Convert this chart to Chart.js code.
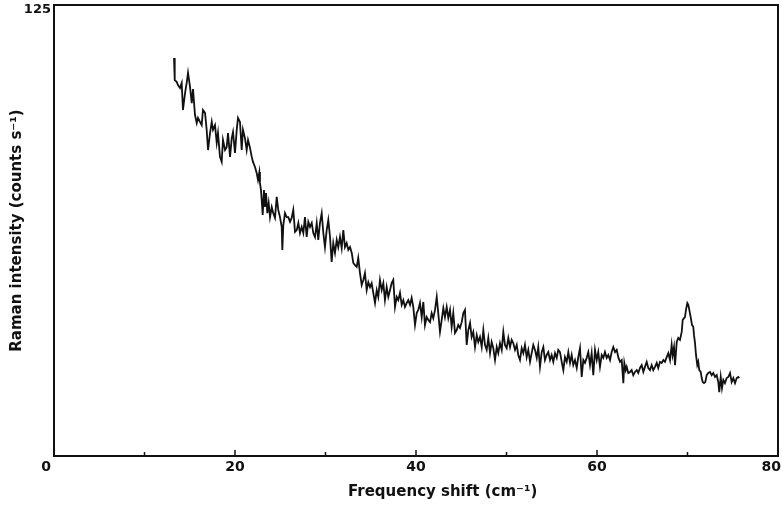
<!DOCTYPE html>
<html>
<head>
<meta charset="utf-8">
<script src="https://cdn.jsdelivr.net/npm/chart.js@4.4.1/dist/chart.umd.min.js"></script>
<style>
  html, body { margin: 0; padding: 0; background: #fff; }
  #wrap { width: 782px; height: 506px; }
</style>
</head>
<body>
<div id="wrap"><canvas id="ramanChart" width="782" height="506"></canvas></div>
<script>
// trace, [shift cm-1, counts s-1]
const traceLow = [
  [13.26,110.3],[13.34,104.2],[13.56,103.7],[13.70,102.8],[13.92,102.0],[14.11,103.4],[14.25,95.9],[14.48,100.6],
  [14.66,103.4],[14.81,106.2],[15.03,102.3],[15.22,97.8],[15.36,101.7],[15.58,94.5],[15.77,92.3],[15.91,93.7],
  [16.13,92.6],[16.32,91.7],[16.46,95.9],[16.69,95.1],[16.87,90.4],[17.02,84.8],[17.24,89.5],[17.43,92.6],
  [17.57,90.4],[17.79,91.7],[17.98,86.8],[18.12,89.5],[18.34,82.9],[18.53,81.5],[18.67,87.6],[18.90,84.8],
  [19.08,85.6],[19.23,89.5],[19.45,82.9],[19.64,88.1],[19.78,89.8],[20.00,84.0],[20.19,90.4],[20.33,93.7],
  [20.55,92.6],[20.74,84.8],[20.88,90.4],[21.10,88.1],[21.29,84.8],[21.44,87.6],[21.66,85.4],[21.85,82.9],
  [21.99,81.5],[22.21,80.1],[22.40,78.4],[22.54,76.5],[22.69,78.7],[22.76,75.7],[22.87,73.7],[22.95,71.0],
  [23.06,66.8],[23.20,73.7],[23.31,69.0],[23.43,72.9],[23.57,67.3],[23.72,70.1],[23.87,66.2],[24.06,69.0],
  [24.23,67.3],[24.42,66.0],[24.61,71.8],[24.78,68.2],[24.97,66.2],[25.16,63.5],[25.23,57.1],[25.34,64.0],
  [25.52,67.3],[25.71,66.2]
];

const traceMid = [
  [25.89,66.2],[26.08,64.9],[26.26,66.0],[26.44,68.2],[26.63,62.1],[26.82,62.6],[27.00,64.6],[27.18,61.8],
  [27.37,63.5],[27.55,61.8],[27.73,66.2],[27.92,60.7],[28.10,64.9],[28.29,63.5],[28.48,64.6],[28.65,61.8],
  [28.84,60.7],[29.03,64.6],[29.20,59.9],[29.39,64.6],[29.58,67.3],[29.76,61.8],[29.94,57.9],[30.13,62.6],
  [30.31,65.4],[30.50,60.7],[30.68,53.8],[30.86,59.0],[31.05,56.3],[31.24,59.9],[31.41,57.9],[31.60,60.7],
  [31.79,57.6],[31.97,62.6],[32.15,57.9],[32.34,59.0],[32.52,57.1],[32.71,57.9],[32.90,56.3],[33.07,53.5],
  [33.26,52.9],[33.45,52.4],[33.62,54.9],[33.81,50.7],[34.00,47.4],[34.18,48.8],[34.36,50.7],[34.55,46.0],
  [34.73,48.2],[34.92,46.8],[35.10,47.9],[35.28,45.2],[35.47,42.4],[35.66,46.0],[35.83,44.1],[36.02,48.8],
  [36.21,46.0],[36.39,47.9],[36.57,43.2],[36.76,46.8],[36.94,44.1],[37.13,46.0],[37.31,47.9],[37.49,48.8],
  [37.68,41.3],[37.87,44.1],[38.04,43.2],[38.23,45.2],[38.42,41.9],[38.60,43.2],[38.78,41.3],[38.97,42.4],
  [39.15,43.2],[39.34,41.9],[39.52,43.8],[39.70,41.3]
];

const traceTail = [
  [39.89,36.3],[40.08,39.6],[40.25,40.5],[40.44,42.4],[40.63,38.5],[40.81,42.7],[40.99,36.3],[41.18,38.5],
  [41.36,37.7],[41.55,37.1],[41.73,39.6],[41.91,38.2],[42.10,40.5],[42.29,44.1],[42.46,39.6],[42.65,34.4],
  [42.84,37.7],[43.02,41.0],[43.20,38.5],[43.39,41.3],[43.57,38.2],[43.76,40.5],[43.94,35.8],[44.12,39.6],
  [44.31,34.1],[44.50,34.9],[44.67,36.3],[44.86,35.5],[45.05,37.1],[45.23,39.6],[45.41,40.5],[45.60,30.8],
  [45.78,34.9],[45.97,36.9],[46.15,33.0],[46.33,34.4],[46.52,30.2],[46.71,33.5],[46.88,31.6],[47.07,33.0],
  [47.26,30.2],[47.44,34.9],[47.62,30.8],[47.81,29.4],[47.99,32.7],[48.18,28.5],[48.36,31.6],[48.54,29.9],
  [48.73,26.6],[48.92,30.2],[49.09,28.5],[49.28,31.3],[49.47,29.4],[49.65,34.4],[49.83,30.8],[50.02,29.9],
  [50.20,32.7],[50.39,30.2],[50.57,32.2],[50.75,31.3],[50.94,29.4],[51.13,30.8],[51.30,28.0],[51.49,26.6],
  [51.68,29.9],[51.86,28.5],[52.04,30.8],[52.23,27.4],[52.41,29.4],[52.60,26.1],[52.78,28.5],[52.96,30.8],
  [53.15,29.4],[53.34,27.2],[53.51,30.2],[53.70,24.7],[53.89,28.8],[54.07,30.2],[54.25,26.6],[54.44,28.0],
  [54.62,28.8],[54.81,26.6],[54.99,28.0],[55.17,26.1],[55.36,28.5],[55.55,27.2],[55.72,29.4]
];

const traceFlat = [
  [55.91,28.8],[56.10,26.1],[56.28,23.8],[56.46,27.4],[56.65,26.1],[56.83,28.8],[57.02,25.8],[57.20,28.0],
  [57.38,25.2],[57.57,26.6],[57.76,24.4],[57.93,27.4],[58.12,29.9],[58.31,21.9],[58.49,26.6],[58.67,25.8],
  [58.86,27.2],[59.04,28.8],[59.23,25.2],[59.41,28.5],[59.59,22.4],[59.78,29.4],[59.97,26.6],[60.14,28.8],
  [60.33,24.7],[60.52,28.0],[60.70,27.2],[60.88,28.8],[61.07,27.2],[61.25,28.0],[61.44,26.6],[61.62,28.8],
  [61.80,30.2],[61.99,28.8],[62.18,29.4],[62.35,27.4],[62.54,26.1],[62.73,26.6],[62.91,20.2],[63.02,25.8],
  [63.17,23.8],[63.28,24.7],[63.46,23.0],[63.65,23.3],[63.83,23.8],[64.01,22.4],[64.20,23.3],[64.39,23.8],
  [64.56,23.0],[64.75,24.4],[64.94,25.2],[65.12,23.3],[65.30,24.7],[65.49,26.1],[65.67,24.4],[65.86,23.8],
  [66.04,25.2],[66.22,23.8],[66.41,24.7],[66.60,25.8],[66.77,24.4],[66.96,26.1],[67.15,25.8],[67.33,26.6],
  [67.51,26.1],[67.70,27.4],[67.88,28.5],[68.07,26.6]
];

// the band near 70 cm-1
const tracePeak = [
  [68.25,30.8],[68.36,28.0],[68.51,30.2],[68.62,25.2],[68.81,31.6],[68.98,32.7],[69.17,32.2],[69.36,34.4],
  [69.47,37.7],[69.61,38.2],[69.72,38.5],[69.83,40.5],[69.98,42.4],[70.09,41.9],[70.20,40.5],[70.35,38.5],
  [70.50,36.3],[70.64,35.8],[70.72,33.5],[70.83,31.3],[70.94,28.0],[71.08,25.2],[71.19,26.1],[71.30,23.8],
  [71.46,23.3],[71.57,21.6],[71.68,20.5],[71.82,20.2],[71.97,20.5],[72.12,22.4],[72.30,23.0],[72.49,23.3],
  [72.67,22.4],[72.85,23.0],[73.04,21.9],[73.23,22.4],[73.40,20.5],[73.51,17.7],[73.67,21.9],[73.81,18.8],
  [73.96,21.1],[74.14,20.2],[74.33,21.6],[74.51,21.9],[74.70,23.0],[74.88,20.5],[75.06,21.6],[75.25,20.2],
  [75.44,21.6],[75.61,21.9],[75.72,21.6]
];

const xTickLabels = [0, 20, 40, 60, 80];
const yTickLabels = [125];

const ink = '#111111';
const fontFamily = '"DejaVu Sans", sans-serif';

const points = [...traceLow, ...traceMid, ...traceTail, ...traceFlat, ...tracePeak]
    .map(p => ({ x: p[0], y: p[1] }));

// box round the plot, inward tick marks, x tick labels and x title
const framePlugin = {
    id: 'frame',
    afterDraw(chart) {
        const { ctx, chartArea } = chart;
        const { left, top, right, bottom } = chartArea;
        const xs = chart.scales.x;
        ctx.save();
        ctx.strokeStyle = ink;
        ctx.lineWidth = 2;
        ctx.strokeRect(left, top, right - left, bottom - top);

        ctx.lineWidth = 1.5;
        xs.ticks.forEach(t => {
            if (t.value <= xs.min || t.value >= xs.max) return;
            const px = xs.getPixelForValue(t.value);
            const len = xTickLabels.includes(t.value) ? 6 : 4;
            ctx.beginPath();
            ctx.moveTo(px, bottom);
            ctx.lineTo(px, bottom - len);
            ctx.stroke();
        });

        // end labels sit just off the corners, as in the original lettering
        ctx.fillStyle = ink;
        ctx.font = 'bold 14px ' + fontFamily;
        ctx.textBaseline = 'middle';
        xTickLabels.forEach(v => {
            const px = xs.getPixelForValue(v);
            if (v === xs.min) {
                ctx.textAlign = 'right';
                ctx.fillText(String(v), px - 3, bottom + 11);
            } else if (v === xs.max) {
                ctx.textAlign = 'right';
                ctx.fillText(String(v), px + 3, bottom + 11);
            } else {
                ctx.textAlign = 'center';
                ctx.fillText(String(v), px, bottom + 11);
            }
        });

        ctx.font = 'bold 15px ' + fontFamily;
        ctx.textAlign = 'left';
        ctx.fillText('Frequency shift (cm\u207B\u00B9)', left + 294, bottom + 36);
        ctx.restore();
    }
};

const ctx = document.getElementById('ramanChart').getContext('2d');

const config = {
    type: 'line',
    data: {
        datasets: [{
            label: 'Raman intensity',
            data: points,
            borderColor: ink,
            borderWidth: 1.8,
            pointRadius: 0,
            tension: 0,
            fill: false
        }]
    },
    options: {
        responsive: false,
        animation: false,
        layout: { padding: { top: 5, right: 4, left: 0, bottom: 0 } },
        plugins: {
            legend: { display: false },
            tooltip: { enabled: false }
        },
        scales: {
            x: {
                type: 'linear',
                min: 0,
                max: 80,
                grid: { display: false, drawTicks: false },
                border: { display: false },
                ticks: { stepSize: 10, autoSkip: false, display: false },
                afterFit: s => {
                    s.height = 50;
                    s.paddingLeft = 0;
                    s.paddingRight = 0;
                }
            },
            y: {
                type: 'linear',
                min: 0,
                max: 125,
                grid: { display: false, drawTicks: false },
                border: { display: false },
                ticks: {
                    stepSize: 125,
                    padding: 3,
                    labelOffset: 5,
                    color: ink,
                    font: { family: fontFamily, size: 13, weight: 'bold' },
                    callback: v => yTickLabels.includes(v) ? String(v) : ''
                },
                title: {
                    display: true,
                    text: 'Raman intensity (counts s\u207B\u00B9)',
                    color: ink,
                    font: { family: fontFamily, size: 15, weight: 'bold' },
                    padding: { top: 8, bottom: 0 }
                },
                afterFit: s => {
                    s.width = 54;
                    s.paddingTop = 0;
                    s.paddingBottom = 0;
                }
            }
        }
    },
    plugins: [framePlugin]
};

const ramanChart = new Chart(ctx, config);
</script>
</body>
</html>
